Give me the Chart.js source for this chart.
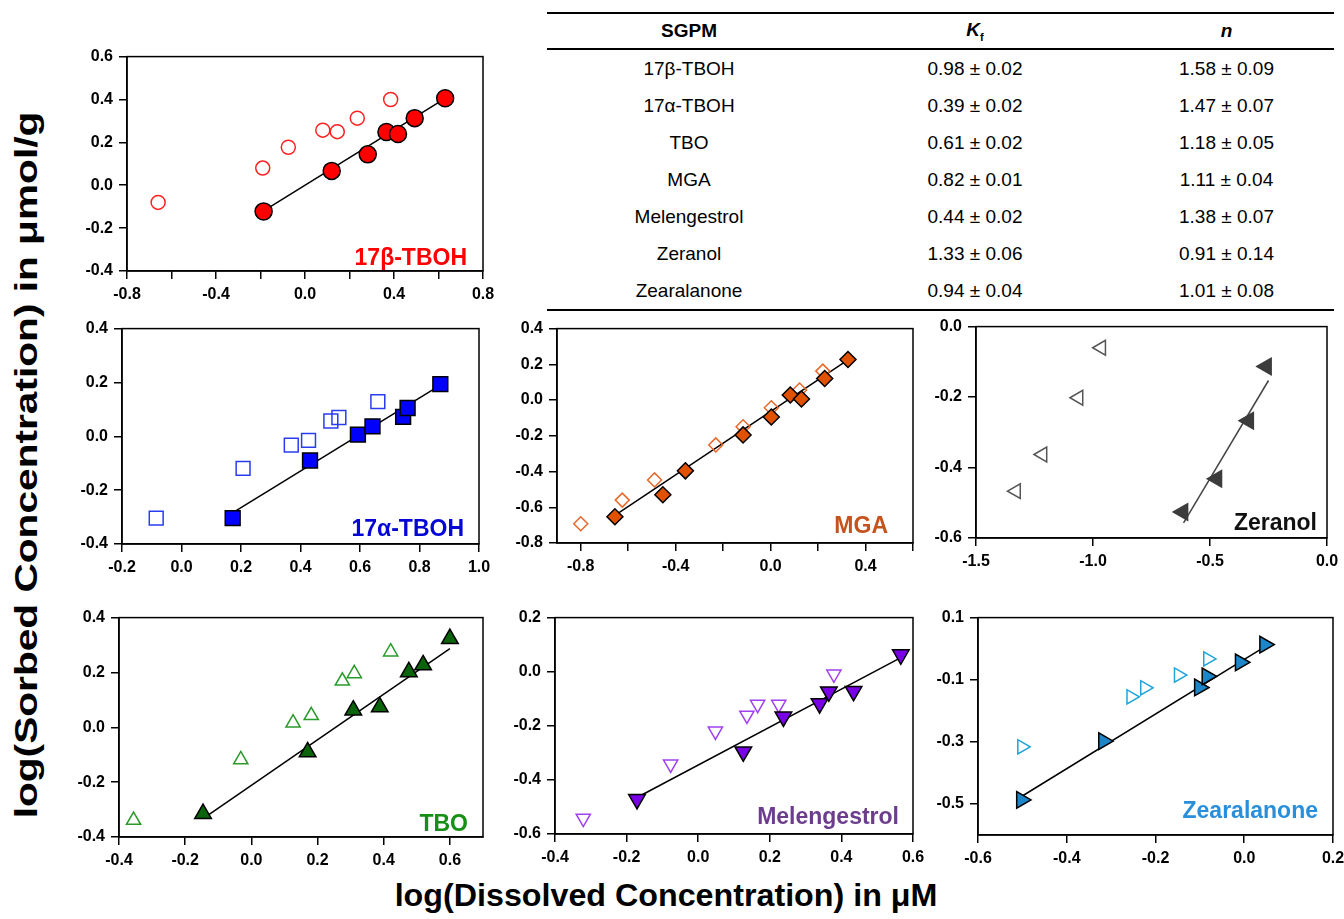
<!DOCTYPE html>
<html>
<head>
<meta charset="utf-8">
<script src="https://cdn.jsdelivr.net/npm/chart.js@4.4.1/dist/chart.umd.min.js"></script>
<style>
  html, body { margin: 0; padding: 0; background: #fff; }
  body { width: 1344px; height: 919px; position: relative; overflow: hidden;
         font-family: "Liberation Sans", Arial, sans-serif; color: #000; }
  canvas.panel { position: absolute; }
  #params { position: absolute; left: 547px; top: 12px; width: 787px; border-collapse: collapse;
            border-top: 2px solid #000; border-bottom: 2px solid #000; font-size: 19px; }
  #params th { height: 34px; padding: 0; font-weight: bold; border-bottom: 2px solid #000; }
  #params td { height: 37px; padding: 0; text-align: center; }
  #params col.c1 { width: 284px; } #params col.c2 { width: 288px; } #params col.c3 { width: 215px; }
  #yTitle { position: absolute; left: 26px; top: 465px; white-space: nowrap; line-height: 1;
            font: bold 32px "Liberation Sans", Arial, sans-serif;
            transform: translate(-50%, -50%) rotate(-90deg) scaleX(1.27); }
  #xTitle { position: absolute; left: 666px; top: 896px; white-space: nowrap; line-height: 1;
            font: bold 31px "Liberation Sans", Arial, sans-serif;
            transform: translate(-50%, -50%) scaleX(1.04); }
</style>
</head>
<body>
<table id="params">
  <colgroup><col class="c1"><col class="c2"><col class="c3"></colgroup>
  <thead><tr><th>SGPM</th><th><i>K</i><sub style="font-size:11px">f</sub></th><th><i>n</i></th></tr></thead>
  <tbody id="paramRows"></tbody>
</table>
<div id="yTitle">log(Sorbed Concentration) in μmol/g</div>
<div id="xTitle">log(Dissolved Concentration) in μM</div>
<script>
// Freundlich parameters
const compounds = ['17β-TBOH', '17α-TBOH', 'TBO', 'MGA', 'Melengestrol', 'Zeranol', 'Zearalanone'];
const kfMean = [0.98, 0.39, 0.61, 0.82, 0.44, 1.33, 0.94];
const kfErr  = [0.02, 0.02, 0.02, 0.01, 0.02, 0.06, 0.04];
const nMean  = [1.58, 1.47, 1.18, 1.11, 1.38, 0.91, 1.01];
const nErr   = [0.09, 0.07, 0.05, 0.04, 0.07, 0.14, 0.08];

// isotherm points [log Cw, log Cs]; open = first set, filled = second set with fit line
const betaOpen   = [[-0.66, -0.08], [-0.19, 0.08], [-0.075, 0.177], [0.08, 0.257], [0.145, 0.25], [0.235, 0.313], [0.385, 0.40]];
const betaFilled = [[-0.186, -0.122], [0.12, 0.067], [0.282, 0.144], [0.366, 0.248], [0.418, 0.239], [0.493, 0.313], [0.63, 0.406]];
const betaFit    = [[-0.186, -0.12], [0.63, 0.405]];

const alphaOpen   = [[-0.085, -0.304], [0.207, -0.119], [0.369, -0.033], [0.427, -0.015], [0.502, 0.057], [0.529, 0.07], [0.66, 0.129]];
const alphaFilled = [[0.172, -0.304], [0.432, -0.09], [0.593, 0.006], [0.642, 0.037], [0.745, 0.072], [0.76, 0.105], [0.87, 0.194]];
const alphaFit    = [[0.17, -0.285], [0.87, 0.19]];

const mgaOpen   = [[-0.8, -0.692], [-0.625, -0.56], [-0.489, -0.447], [-0.231, -0.251], [-0.116, -0.149], [0.003, -0.043], [0.122, 0.056], [0.22, 0.162]];
const mgaFilled = [[-0.656, -0.653], [-0.454, -0.53], [-0.359, -0.396], [-0.116, -0.195], [0.003, -0.095], [0.083, 0.028], [0.13, 0.006], [0.228, 0.121], [0.326, 0.227]];
const mgaFit    = [[-0.656, -0.645], [0.326, 0.225]];

const zerOpen   = [[-0.965, -0.06], [-1.062, -0.202], [-1.216, -0.363], [-1.329, -0.467]];
const zerFilled = [[-0.259, -0.113], [-0.335, -0.267], [-0.471, -0.432], [-0.616, -0.526]];
const zerFit    = [[-0.613, -0.557], [-0.25, -0.153]];

const tboOpen   = [[-0.356, -0.339], [-0.032, -0.118], [0.126, 0.016], [0.181, 0.043], [0.275, 0.169], [0.311, 0.196], [0.421, 0.275]];
const tboFilled = [[-0.146, -0.315], [0.17, -0.09], [0.308, 0.062], [0.388, 0.074], [0.476, 0.202], [0.519, 0.227], [0.6, 0.323]];
const tboFit    = [[-0.146, -0.333], [0.6, 0.287]];

const melOpen   = [[-0.321, -0.542], [-0.077, -0.342], [0.048, -0.22], [0.136, -0.161], [0.166, -0.121], [0.225, -0.121], [0.379, -0.009]];
const melFilled = [[-0.171, -0.472], [0.126, -0.296], [0.238, -0.167], [0.339, -0.118], [0.365, -0.074], [0.434, -0.072], [0.566, 0.063]];
const melFit    = [[-0.171, -0.465], [0.566, 0.052]];

const zeaOpen   = [[-0.501, -0.316], [-0.255, -0.155], [-0.224, -0.126], [-0.148, -0.085], [-0.082, -0.033]];
const zeaFilled = [[-0.502, -0.487], [-0.317, -0.298], [-0.101, -0.125], [-0.084, -0.089], [-0.009, -0.044], [0.046, 0.013]];
const zeaFit    = [[-0.502, -0.476], [0.046, 0.006]];

// axis ticks and their labels ('' = unlabelled tick mark)
const betaXTicks = [-0.8, -0.6, -0.4, -0.2, 0, 0.2, 0.4, 0.6, 0.8];
const betaXLabels = ['-0.8', '', '-0.4', '', '0.0', '', '0.4', '', '0.8'];
const betaYTicks = [-0.4, -0.2, 0, 0.2, 0.4, 0.6];
const betaYLabels = ['-0.4', '-0.2', '0.0', '0.2', '0.4', '0.6'];

const alphaXTicks = [-0.2, 0, 0.2, 0.4, 0.6, 0.8, 1.0];
const alphaXLabels = ['-0.2', '0.0', '0.2', '0.4', '0.6', '0.8', '1.0'];
const alphaYTicks = [-0.4, -0.2, 0, 0.2, 0.4];
const alphaYLabels = ['-0.4', '-0.2', '0.0', '0.2', '0.4'];

const mgaXTicks = [-0.8, -0.6, -0.4, -0.2, 0, 0.2, 0.4, 0.6];
const mgaXLabels = ['-0.8', '', '-0.4', '', '0.0', '', '0.4', ''];
const mgaYTicks = [-0.8, -0.6, -0.4, -0.2, 0, 0.2, 0.4];
const mgaYLabels = ['-0.8', '-0.6', '-0.4', '-0.2', '0.0', '0.2', '0.4'];

const zerXTicks = [-1.5, -1.0, -0.5, 0];
const zerXLabels = ['-1.5', '-1.0', '-0.5', '0.0'];
const zerYTicks = [-0.6, -0.4, -0.2, 0];
const zerYLabels = ['-0.6', '-0.4', '-0.2', '0.0'];

const tboXTicks = [-0.4, -0.2, 0, 0.2, 0.4, 0.6];
const tboXLabels = ['-0.4', '-0.2', '0.0', '0.2', '0.4', '0.6'];
const tboYTicks = [-0.4, -0.2, 0, 0.2, 0.4];
const tboYLabels = ['-0.4', '-0.2', '0.0', '0.2', '0.4'];

const melXTicks = [-0.4, -0.2, 0, 0.2, 0.4, 0.6];
const melXLabels = ['-0.4', '-0.2', '0.0', '0.2', '0.4', '0.6'];
const melYTicks = [-0.6, -0.4, -0.2, 0, 0.2];
const melYLabels = ['-0.6', '-0.4', '-0.2', '0.0', '0.2'];

const zeaXTicks = [-0.6, -0.4, -0.2, 0, 0.2];
const zeaXLabels = ['-0.6', '-0.4', '-0.2', '0.0', '0.2'];
const zeaYTicks = [-0.5, -0.3, -0.1, 0.1];
const zeaYLabels = ['-0.5', '-0.3', '-0.1', '0.1'];

// table body
const tbody = document.getElementById('paramRows');
compounds.forEach((name, i) => {
  const tr = document.createElement('tr');
  tr.innerHTML = `<td>${name}</td><td>${kfMean[i].toFixed(2)} ± ${kfErr[i].toFixed(2)}</td>` +
                 `<td>${nMean[i].toFixed(2)} ± ${nErr[i].toFixed(2)}</td>`;
  tbody.appendChild(tr);
});

const FONT = '"Liberation Sans", Arial, sans-serif';

// box around the plotting area
const framePlugin = {
  id: 'frame',
  beforeDatasetsDraw(chart) {
    const { ctx, chartArea: a } = chart;
    ctx.save();
    ctx.strokeStyle = '#000';
    ctx.lineWidth = 1.5;
    ctx.strokeRect(a.left, a.top, a.right - a.left, a.bottom - a.top);
    ctx.restore();
  }
};

// compound name in the lower right corner
const tagPlugin = {
  id: 'panelTag',
  afterDatasetsDraw(chart, args, opts) {
    if (!opts.text) return;
    const { ctx, chartArea: a } = chart;
    ctx.save();
    ctx.font = 'bold 23px ' + FONT;
    ctx.fillStyle = opts.color;
    ctx.textAlign = 'right';
    ctx.textBaseline = 'alphabetic';
    ctx.fillText(opts.text, a.right - opts.dx, a.bottom - opts.dy);
    ctx.restore();
  }
};
Chart.register(framePlugin, tagPlugin);

const toXY = pts => pts.map(([x, y]) => ({ x, y }));

function axis(min, max, ticks, labels, isX) {
  return {
    type: 'linear',
    min: min,
    max: max,
    afterBuildTicks: s => { s.ticks = ticks.map(v => ({ value: v })); },
    afterFit: s => { if (isX) s.height = 40; else s.width = 60; },
    ticks: {
      callback: (v, i) => labels[i],
      autoSkip: false,
      maxRotation: 0,
      minRotation: 0,
      padding: 6,
      color: '#000',
      font: { family: FONT, size: 16, weight: 'bold' }
    },
    grid: { display: true, drawOnChartArea: false, drawTicks: true, tickLength: 8, color: '#000', lineWidth: 1.5 },
    border: { display: true, color: '#000', width: 1.5 }
  };
}

function makePanel(p) {
  const [L, T, R, B] = p.area;
  const cv = document.createElement('canvas');
  cv.className = 'panel';
  cv.width = R - L + 90;
  cv.height = B - T + 55;
  cv.style.left = (L - 70) + 'px';
  cv.style.top = (T - 15) + 'px';
  document.body.appendChild(cv);

  new Chart(cv.getContext('2d'), {
    type: 'scatter',
    data: {
      datasets: [
        {
          data: toXY(p.filled),
          pointStyle: p.shape,
          pointRotation: p.rot,
          pointRadius: p.rFilled,
          pointBackgroundColor: p.fill,
          pointBorderColor: p.fillEdge,
          pointBorderWidth: 1.5,
          order: 0
        },
        {
          data: toXY(p.open),
          pointStyle: p.shape,
          pointRotation: p.rot,
          pointRadius: p.rOpen,
          pointBackgroundColor: 'rgba(255,255,255,0)',
          pointBorderColor: p.openEdge,
          pointBorderWidth: 1.5,
          order: 1
        },
        {
          data: toXY(p.fit),
          showLine: true,
          borderColor: p.lineColor || '#000',
          borderWidth: 1.5,
          pointRadius: 0,
          order: 2
        }
      ]
    },
    options: {
      responsive: false,
      animation: false,
      events: [],
      layout: { padding: { left: 10, top: 15, right: 20, bottom: 0 } },
      scales: {
        x: axis(p.xMin, p.xMax, p.xTicks, p.xLabels, true),
        y: axis(p.yMin, p.yMax, p.yTicks, p.yLabels, false)
      },
      plugins: {
        legend: { display: false },
        tooltip: { enabled: false },
        panelTag: p.tag
      }
    }
  });
}

makePanel({
  area: [127, 56, 483, 271],
  xMin: -0.8, xMax: 0.8, xTicks: betaXTicks, xLabels: betaXLabels,
  yMin: -0.4, yMax: 0.6, yTicks: betaYTicks, yLabels: betaYLabels,
  open: betaOpen, filled: betaFilled, fit: betaFit,
  shape: 'circle', rot: 0, rFilled: 8.5, rOpen: 7,
  fill: '#ff0000', fillEdge: '#000', openEdge: '#ff2020',
  tag: { text: '17β-TBOH', color: '#ff0000', dx: 16, dy: 6 }
});

makePanel({
  area: [122, 328, 479, 544],
  xMin: -0.2, xMax: 1.0, xTicks: alphaXTicks, xLabels: alphaXLabels,
  yMin: -0.4, yMax: 0.4, yTicks: alphaYTicks, yLabels: alphaYLabels,
  open: alphaOpen, filled: alphaFilled, fit: alphaFit,
  shape: 'rect', rot: 0, rFilled: 10.5, rOpen: 9.8,
  fill: '#0000ff', fillEdge: '#000', openEdge: '#2a3cf0',
  tag: { text: '17α-TBOH', color: '#0505d8', dx: 15, dy: 8 }
});

makePanel({
  area: [557, 328, 913, 543],
  xMin: -0.9, xMax: 0.6, xTicks: mgaXTicks, xLabels: mgaXLabels,
  yMin: -0.8, yMax: 0.4, yTicks: mgaYTicks, yLabels: mgaYLabels,
  open: mgaOpen, filled: mgaFilled, fit: mgaFit,
  shape: 'rectRot', rot: 0, rFilled: 8, rOpen: 7,
  fill: '#e05200', fillEdge: '#000', openEdge: '#e8682a',
  tag: { text: 'MGA', color: '#c4531c', dx: 25, dy: 10 }
});

makePanel({
  area: [976, 326, 1327, 538],
  xMin: -1.5, xMax: 0, xTicks: zerXTicks, xLabels: zerXLabels,
  yMin: -0.6, yMax: 0, yTicks: zerYTicks, yLabels: zerYLabels,
  open: zerOpen, filled: zerFilled, fit: zerFit,
  shape: 'triangle', rot: -90, rFilled: 9.5, rOpen: 8.5,
  fill: '#3c3c3c', fillEdge: '#3c3c3c', openEdge: '#555555', lineColor: '#444',
  tag: { text: 'Zeranol', color: '#111', dx: 10, dy: 8 }
});

makePanel({
  area: [119, 617, 483, 837],
  xMin: -0.4, xMax: 0.7, xTicks: tboXTicks, xLabels: tboXLabels,
  yMin: -0.4, yMax: 0.4, yTicks: tboYTicks, yLabels: tboYLabels,
  open: tboOpen, filled: tboFilled, fit: tboFit,
  shape: 'triangle', rot: 0, rFilled: 9.6, rOpen: 8.2,
  fill: '#0b640b', fillEdge: '#000', openEdge: '#2a9a2a',
  tag: { text: 'TBO', color: '#149014', dx: 15, dy: 6 }
});

makePanel({
  area: [555, 617, 913, 834],
  xMin: -0.4, xMax: 0.6, xTicks: melXTicks, xLabels: melXLabels,
  yMin: -0.6, yMax: 0.2, yTicks: melYTicks, yLabels: melYLabels,
  open: melOpen, filled: melFilled, fit: melFit,
  shape: 'triangle', rot: 180, rFilled: 9.6, rOpen: 8.2,
  fill: '#7a00e6', fillEdge: '#000', openEdge: '#a040f0',
  tag: { text: 'Melengestrol', color: '#6b3d8c', dx: 14, dy: 10 }
});

makePanel({
  area: [978, 617, 1333, 835],
  xMin: -0.6, xMax: 0.2, xTicks: zeaXTicks, xLabels: zeaXLabels,
  yMin: -0.6, yMax: 0.1, yTicks: zeaYTicks, yLabels: zeaYLabels,
  open: zeaOpen, filled: zeaFilled, fit: zeaFit,
  shape: 'triangle', rot: 90, rFilled: 9.6, rOpen: 8.2,
  fill: '#1c86c8', fillEdge: '#000', openEdge: '#1ea4d8',
  tag: { text: 'Zearalanone', color: '#2a8fda', dx: 15, dy: 17 }
});
</script>
</body>
</html>
